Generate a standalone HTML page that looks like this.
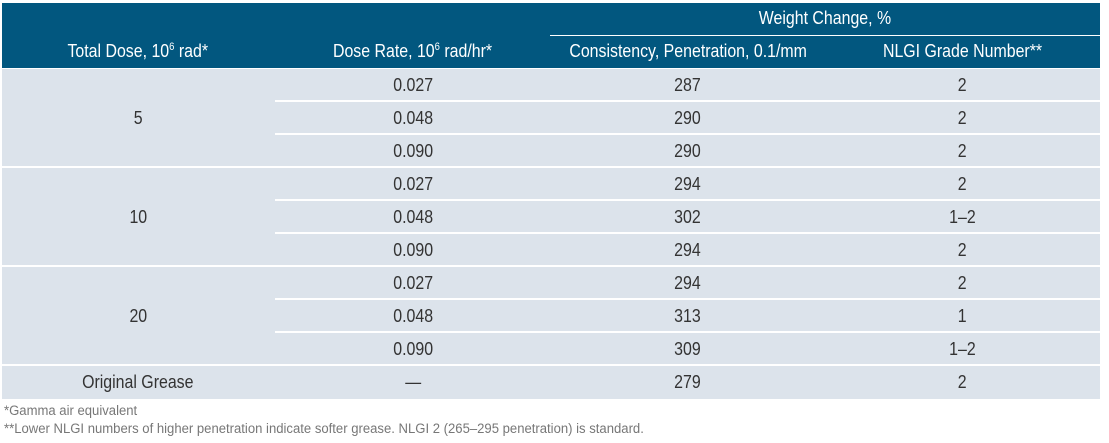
<!DOCTYPE html>
<html><head><meta charset="utf-8"><style>
body{margin:0;width:1109px;height:443px;background:#fff;position:relative;overflow:hidden;font-family:"Liberation Sans",sans-serif;}
.hd{position:absolute;left:2px;top:3px;width:1098px;height:65px;background:#02577f;}
.t{position:absolute;text-align:center;white-space:nowrap;}
.t span{display:inline-block;transform:scaleX(0.86);transform-origin:center;}
.h{color:#fff;font-size:18.5px;}
.b{color:#333;font-size:18.5px;}
.bg{position:absolute;left:2px;top:69px;width:1098px;height:330px;background:#dce3eb;}
.ln{position:absolute;height:2px;background:#fff;}
.f{position:absolute;left:4px;color:#777;font-size:13.5px;white-space:nowrap;transform:scaleX(0.97);transform-origin:left;}
</style></head><body>
<div class="hd"></div>
<div class="ln" style="left:550px;top:35px;width:550px;height:1px"></div>
<div class="t h" style="left:550px;width:550px;top:7px"><span>Weight Change, %</span></div>
<div class="t h" style="left:0;width:276px;top:40px"><span>Total Dose, 10<sup style="font-size:11px">6</sup> rad*</span></div>
<div class="t h" style="left:276px;width:274px;top:40px"><span>Dose Rate, 10<sup style="font-size:11px">6</sup> rad/hr*</span></div>
<div class="t h" style="left:550px;width:275px;top:40px"><span>Consistency, Penetration, 0.1/mm</span></div>
<div class="t h" style="left:825px;width:275px;top:40px"><span>NLGI Grade Number**</span></div>
<div class="bg"></div>
<div id="rows"></div>
<script>
var d=[["5","0.027","287","2"],["","0.048","290","2"],["","0.090","290","2"],["10","0.027","294","2"],["","0.048","302","1–2"],["","0.090","294","2"],["20","0.027","294","2"],["","0.048","313","1"],["","0.090","309","1–2"],["Original Grease","—","279","2"]];
var h="",rh=33,y0=69;
var xs=[[0,276],[276,274],[550,275],[825,275]];
for(var i=0;i<10;i++){var y=y0+i*rh;
 if(i>0){var full=(i%3==0);h+='<div class="ln" style="left:'+(full?2:275)+'px;top:'+(y-2)+'px;width:'+(full?1098:825)+'px"></div>';}
 for(var j=1;j<4;j++)h+='<div class="t b" style="left:'+xs[j][0]+'px;width:'+xs[j][1]+'px;top:'+(y+5)+'px"><span>'+d[i][j]+'</span></div>';
 if(i==9)h+='<div class="t b" style="left:0;width:276px;top:'+(y+5)+'px"><span>'+d[i][0]+'</span></div>';
 else if(d[i][0])h+='<div class="t b" style="left:0;width:276px;top:'+(y+rh+5)+'px"><span>'+d[i][0]+'</span></div>';
}
document.getElementById("rows").innerHTML=h;
</script>
<div class="f" style="top:403px">*Gamma air equivalent</div>
<div class="f" style="top:421px">**Lower NLGI numbers of higher penetration indicate softer grease. NLGI 2 (265–295 penetration) is standard.</div>
</body></html>
